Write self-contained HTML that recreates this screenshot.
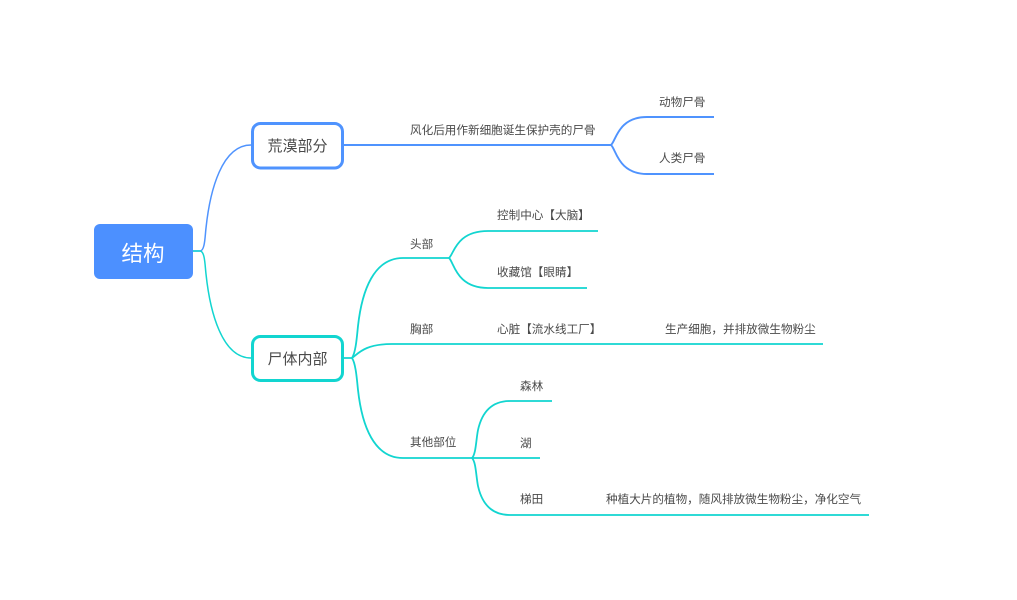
<!DOCTYPE html>
<html lang="zh">
<head>
<meta charset="utf-8">
<style>
html,body{margin:0;padding:0;background:#fff;width:1017px;height:600px;overflow:hidden}
svg{display:block}
text{font-family:"Liberation Sans","Noto Sans CJK SC",sans-serif;fill:#4a4a4a;font-size:11.6px}
</style>
</head>
<body>
<svg width="1017" height="600" viewBox="0 0 1017 600" xmlns="http://www.w3.org/2000/svg">
<rect width="1017" height="600" fill="#fff"/>
<g fill="none" stroke-linecap="butt">
  <g stroke="#4f93fe" stroke-width="1.5">
    <path d="M193 251H200C205 251 205 236 206 228C210 190 222 145 251 145"/>
  </g>
  <g stroke="#4f93fe" stroke-width="1.9">
    <path d="M344 145H611"/>
    <path d="M611 145C616 141 618 117 647 117H714"/>
    <path d="M611 145C616 149 618 174 647 174H714"/>
  </g>
  <g stroke="#12d5d0" stroke-width="1.5">
    <path d="M193 251H200C205 251 205 266 206 274C210 312 222 358 251 358"/>
  </g>
  <g stroke="#12d5d0" stroke-width="1.8">
    <path d="M344 358H352C356 352 357 335 358 326C362 290 374 258 403 258H449"/>
    <path d="M449 258C454 254 456 231 488 231H598"/>
    <path d="M449 258C454 262 456 288 488 288H587"/>
    <path d="M352 358C358 354 364 344 392 344H823"/>
    <path d="M352 358C356 364 357 381 358 390C362 426 374 458 403 458H540"/>
    <path d="M472 458C476 454 476 440 478 430C482 412 492 401 510 401H552"/>
    <path d="M472 458C476 462 476 476 478 486C482 504 492 515 510 515H869"/>
  </g>
</g>
<rect x="94" y="224" width="99" height="55" rx="6" fill="#4c90ff"/>
<rect x="252.5" y="123.5" width="90" height="44.5" rx="8" fill="#fff" stroke="#4f93fe" stroke-width="3"/>
<rect x="252.5" y="336.5" width="90" height="44" rx="8" fill="#fff" stroke="#12d5d0" stroke-width="3"/>
<text x="143" y="261" text-anchor="middle" style="font-size:21.5px;fill:#fff">结构</text>
<text x="297.5" y="151" text-anchor="middle" style="font-size:15px">荒漠部分</text>
<text x="297.5" y="364" text-anchor="middle" style="font-size:15px">尸体内部</text>
<text x="410" y="134">风化后用作新细胞诞生保护壳的尸骨</text>
<text x="659" y="106">动物尸骨</text>
<text x="659" y="162">人类尸骨</text>
<text x="410" y="248">头部</text>
<text x="497" y="219">控制中心【大脑】</text>
<text x="497" y="276">收藏馆【眼睛】</text>
<text x="410" y="333">胸部</text>
<text x="497" y="333">心脏【流水线工厂】</text>
<text x="665" y="333">生产细胞，并排放微生物粉尘</text>
<text x="410" y="446">其他部位</text>
<text x="520" y="390">森林</text>
<text x="520" y="447">湖</text>
<text x="520" y="503">梯田</text>
<text x="606" y="503">种植大片的植物，随风排放微生物粉尘，净化空气</text>
</svg>
</body>
</html>
